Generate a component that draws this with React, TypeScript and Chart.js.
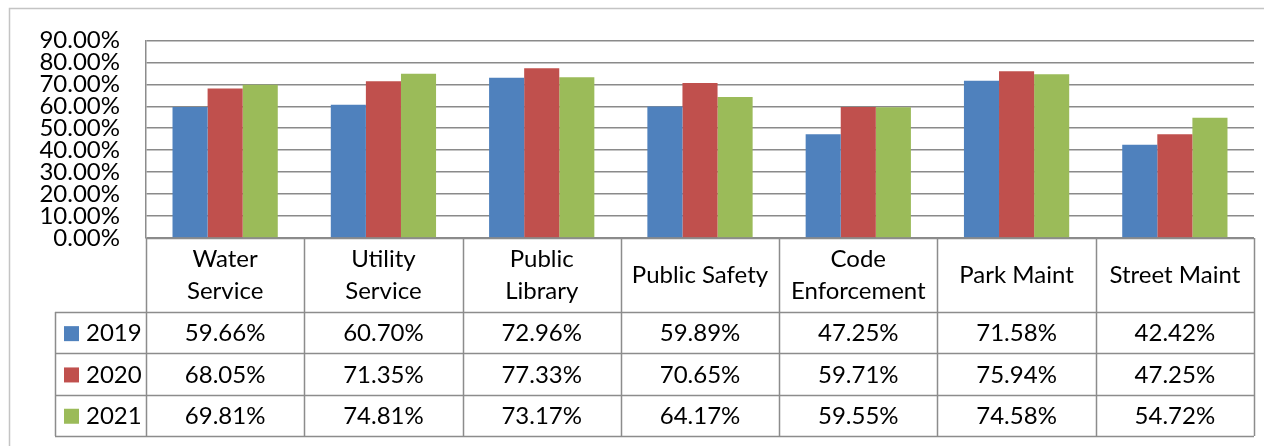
import React, { useEffect, useRef } from "react";
import { Chart, registerables } from "chart.js";

Chart.register(...registerables);

const categories: string[][] = [
  ["Water", "Service"],
  ["Utility", "Service"],
  ["Public", "Library"],
  ["Public Safety"],
  ["Code", "Enforcement"],
  ["Park Maint"],
  ["Street Maint"],
];
const seriesNames = ["2019", "2020", "2021"];
const values2019 = [59.66, 60.7, 72.96, 59.89, 47.25, 71.58, 42.42];
const values2020 = [68.05, 71.35, 77.33, 70.65, 59.71, 75.94, 47.25];
const values2021 = [69.81, 74.81, 73.17, 64.17, 59.55, 74.58, 54.72];
const seriesColors = ["#4F81BD", "#C0504D", "#9BBB59"];
const yMin = 0;
const yMax = 90;
const yStep = 10;

const FONT = "Lato, 'Open Sans', sans-serif";
const LINE = "#8c8c8c";
const FONT_SIZE = 24;

const tablePlugin = {
  id: "dataTable",
  beforeDraw(chart: any) {
    const ctx = chart.ctx;
    ctx.save();
    ctx.strokeStyle = "#c4c4c4";
    ctx.lineWidth = 1.5;
    ctx.beginPath();
    ctx.moveTo(9.5, chart.height);
    ctx.lineTo(9.5, 8.5);
    ctx.lineTo(chart.width, 8.5);
    ctx.stroke();
    ctx.restore();
  },
  afterDraw(chart: any) {
    const ctx = chart.ctx;
    const area = chart.chartArea;
    const x = chart.scales.x;
    const n = categories.length;
    const colW = (area.right - area.left) / n;
    const top = area.bottom;
    const headerBottom = top + 74;
    const rowH = 41.3;
    const tableBottom = headerBottom + rowH * seriesNames.length;
    const legendLeft = 55;
    const allValues = [values2019, values2020, values2021];

    ctx.save();
    ctx.strokeStyle = LINE;
    ctx.lineWidth = 1.5;
    ctx.beginPath();
    for (let r = 0; r <= seriesNames.length; r++) {
      const y = Math.round(headerBottom + r * rowH) + 0.5;
      ctx.moveTo(legendLeft, y);
      ctx.lineTo(area.right, y);
    }
    ctx.moveTo(legendLeft + 0.5, headerBottom);
    ctx.lineTo(legendLeft + 0.5, tableBottom);
    for (let i = 0; i <= n; i++) {
      const cx = i < n ? x.getPixelForValue(i) - colW / 2 : x.getPixelForValue(n - 1) + colW / 2;
      const px = Math.round(cx) + 0.5;
      ctx.moveTo(px, top);
      ctx.lineTo(px, tableBottom);
    }
    ctx.moveTo(area.left, Math.round(top) + 0.5);
    ctx.lineTo(area.right, Math.round(top) + 0.5);
    ctx.stroke();

    ctx.fillStyle = "#000";
    ctx.font = `${FONT_SIZE}px ${FONT}`;
    ctx.textAlign = "center";
    ctx.textBaseline = "middle";
    for (let i = 0; i < n; i++) {
      const cx = x.getPixelForValue(i);
      const lines = categories[i];
      const mid = (top + headerBottom) / 2;
      const lh = 32;
      lines.forEach((ln, k) => {
        const y = mid + (k - (lines.length - 1) / 2) * lh;
        ctx.fillText(ln, cx, y);
      });
    }
    for (let r = 0; r < seriesNames.length; r++) {
      const cy = headerBottom + r * rowH + rowH / 2 + 1;
      ctx.fillStyle = seriesColors[r];
      ctx.fillRect(legendLeft + 9, cy - 7.5, 15, 15);
      ctx.fillStyle = "#000";
      ctx.textAlign = "left";
      ctx.fillText(seriesNames[r], legendLeft + 31, cy);
      ctx.textAlign = "center";
      for (let i = 0; i < n; i++) {
        ctx.fillText(allValues[r][i].toFixed(2) + "%", x.getPixelForValue(i), cy);
      }
    }
    ctx.restore();
  },
};

export default function App() {
  const ref = useRef<HTMLCanvasElement>(null);
  useEffect(() => {
    if (!ref.current) return;
    const chart = new Chart(ref.current, {
      type: "bar",
      data: {
        labels: categories.map((c) => c.join(" ")),
        datasets: [
          { label: seriesNames[0], data: values2019, backgroundColor: seriesColors[0] },
          { label: seriesNames[1], data: values2020, backgroundColor: seriesColors[1] },
          { label: seriesNames[2], data: values2021, backgroundColor: seriesColors[2] },
        ],
      },
      options: {
        responsive: false,
        animation: false,
        devicePixelRatio: 1,
        layout: { padding: { top: 37, left: 0, right: 10, bottom: 208 } },
        datasets: { bar: { categoryPercentage: 0.665, barPercentage: 1, borderWidth: 0 } },
        plugins: { legend: { display: false }, tooltip: { enabled: false }, title: { display: false } },
        scales: {
          x: { display: false },
          y: {
            min: yMin,
            max: yMax,
            afterFit: (s: any) => {
              s.width = 146;
            },
            ticks: {
              stepSize: yStep,
              autoSkip: false,
              padding: 26,
              color: "#000",
              font: { family: FONT, size: FONT_SIZE },
              callback: (v: any) => Number(v).toFixed(2) + "%",
            },
            grid: { color: "#8a8a8a", lineWidth: 1.5, drawTicks: false },
            border: { display: true, color: LINE, width: 1.5 },
          },
        },
      },
      plugins: [tablePlugin],
    });
    return () => chart.destroy();
  }, []);
  return (
    <div style={{ position: "fixed", left: 0, top: 0, width: 1264, height: 446, background: "#fff" }}>
      <canvas ref={ref} width={1264} height={446} style={{ display: "block", width: 1264, height: 446 }} />
    </div>
  );
}
